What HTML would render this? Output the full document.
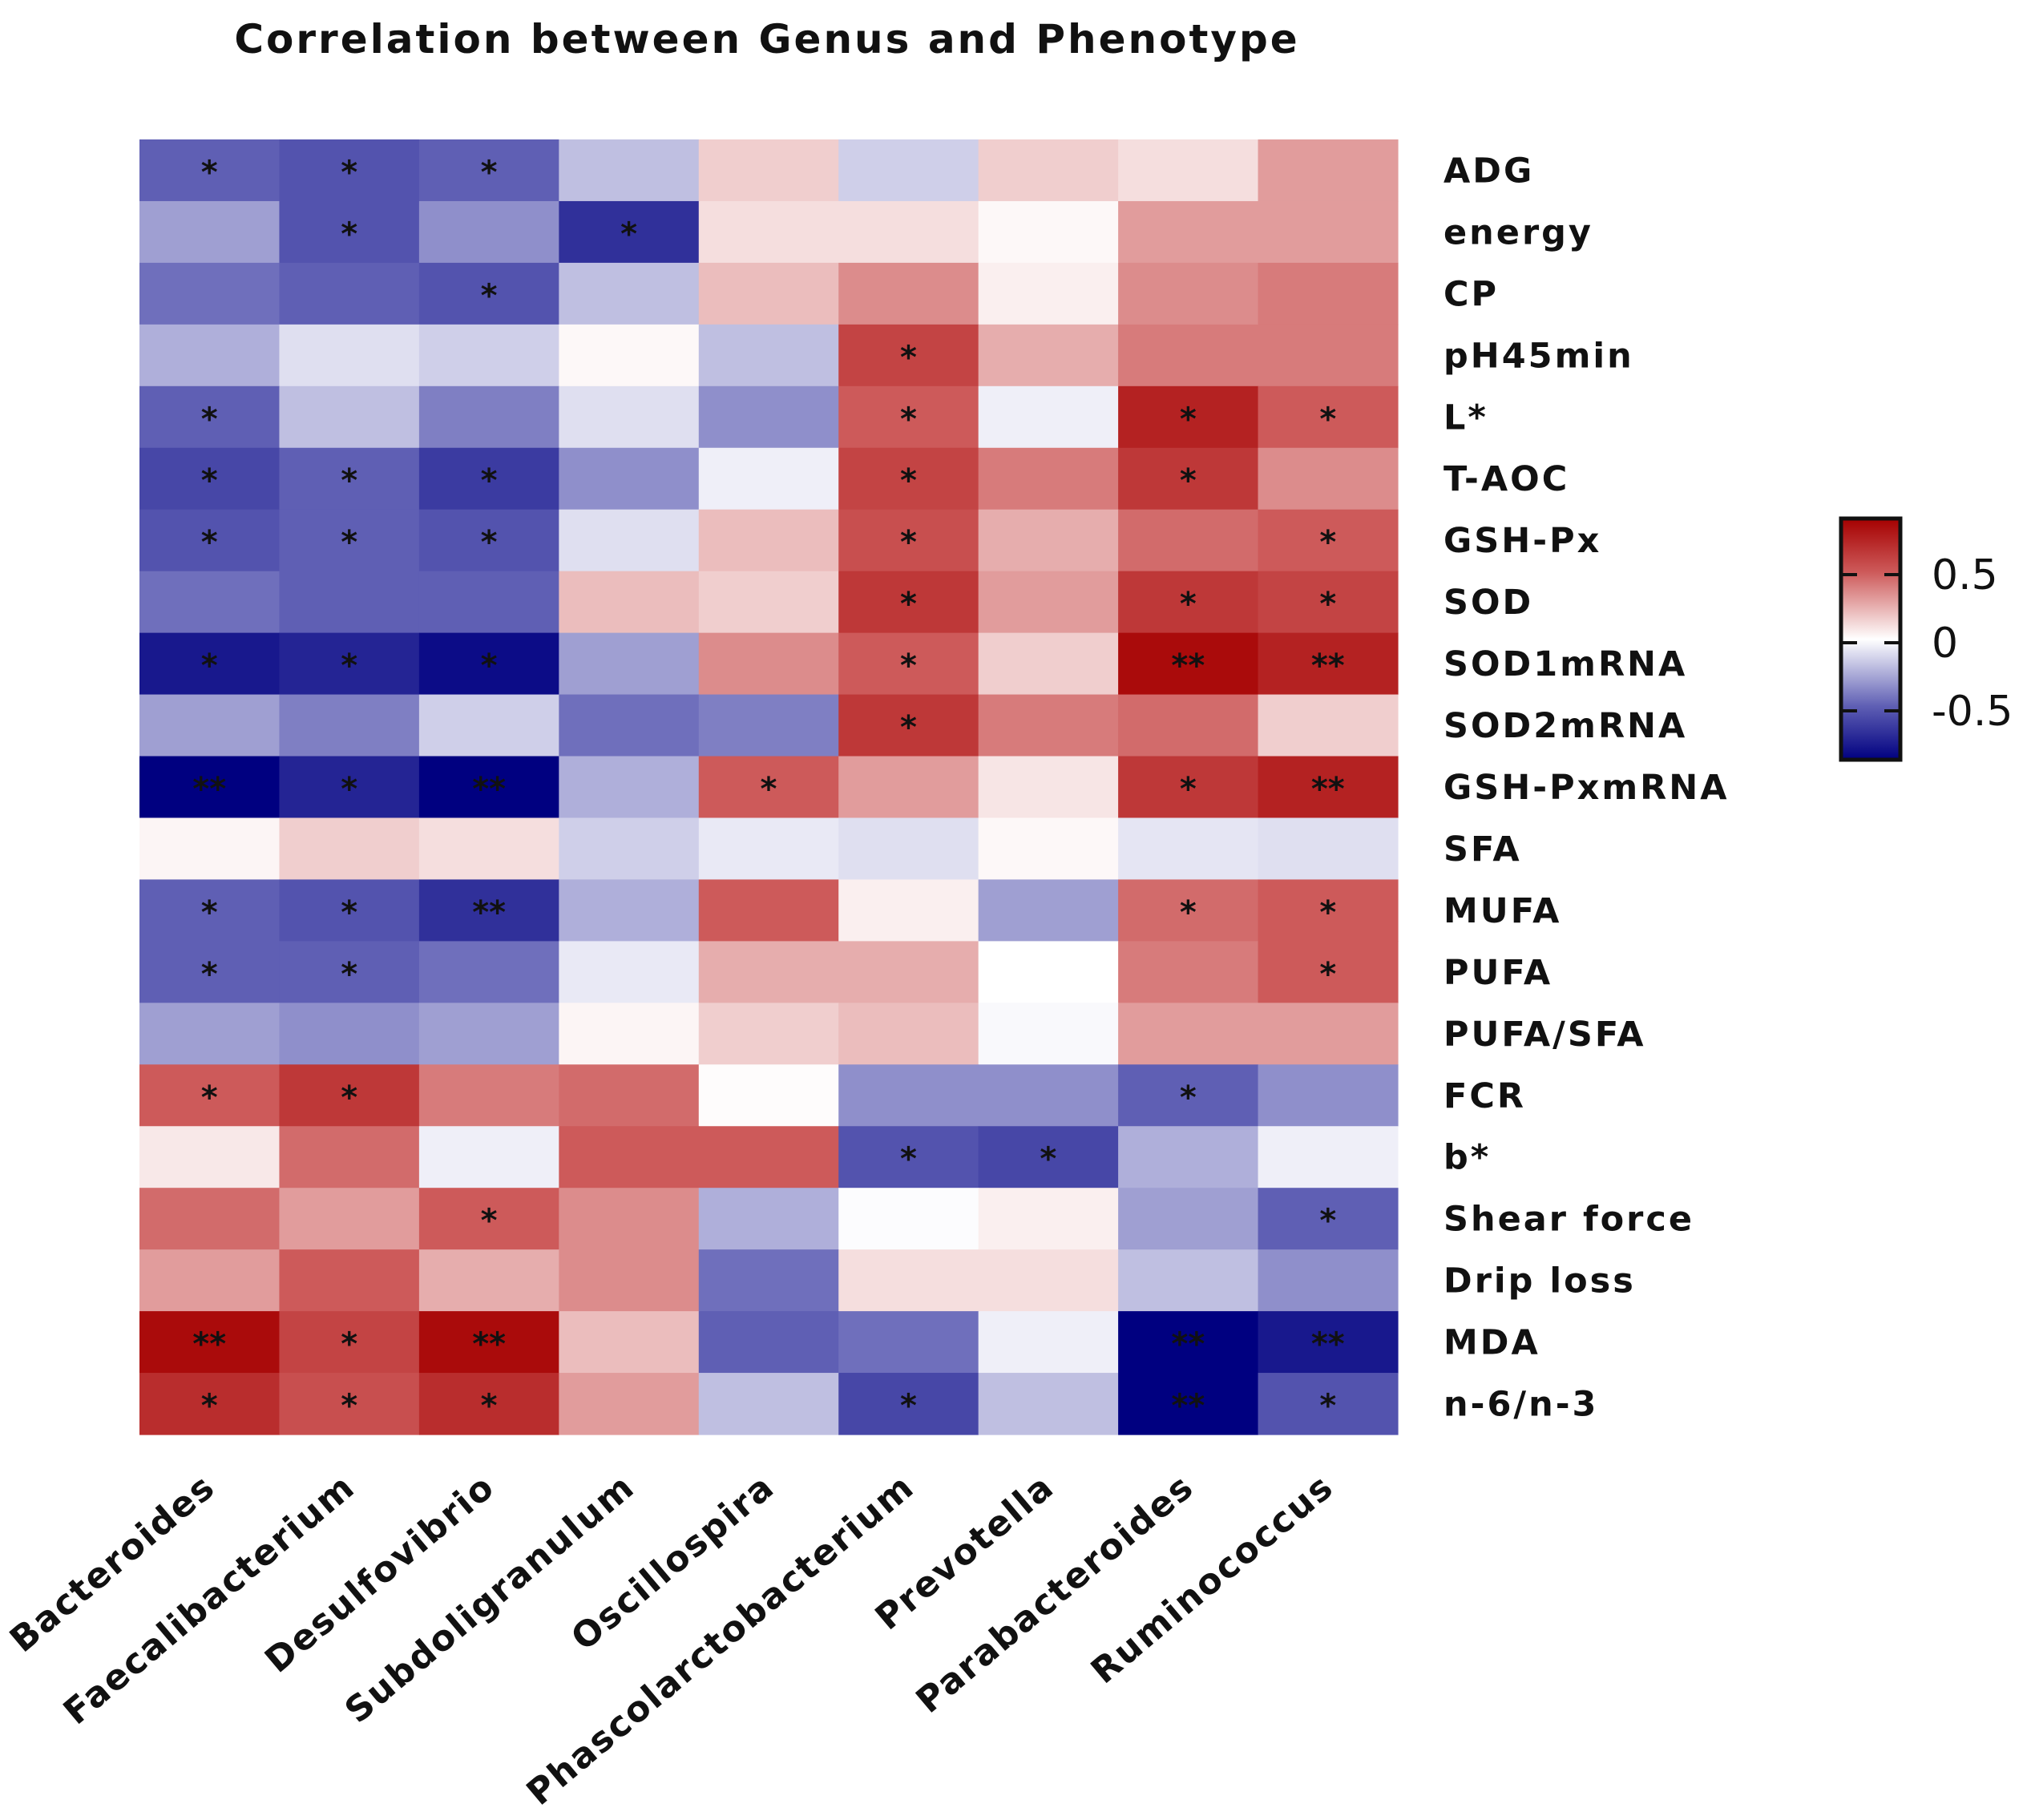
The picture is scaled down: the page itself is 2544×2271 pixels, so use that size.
<!DOCTYPE html>
<html><head><meta charset="utf-8"><style>
body{margin:0;background:#fff;}
svg{display:block;font-family:"DejaVu Sans","Liberation Sans",Arial,sans-serif;}
</style></head><body>
<svg id="chart" width="2544" height="2271" viewBox="0 0 2544 2271">
<text x="957" y="66" text-anchor="middle" font-size="50" font-weight="bold" letter-spacing="3" fill="#111">Correlation between Genus and Phenotype</text>
<g id="cells"></g><g id="stars"></g><g id="rowlabels"></g><g id="collabels"></g>
<defs><linearGradient id="cbg" x1="0" y1="1" x2="0" y2="0">
<stop offset="0" stop-color="#000080"/><stop offset="0.222" stop-color="#5f5fb4"/><stop offset="0.5" stop-color="#ffffff"/><stop offset="0.778" stop-color="#cd5a5a"/><stop offset="1" stop-color="#a50000"/></linearGradient></defs>
<g>
<rect x="2297" y="647" width="74" height="301" fill="url(#cbg)" stroke="#111" stroke-width="5"/>
<g id="cbticks"></g>
</g>
</svg>
<script>
const genera=["Bacteroides","Faecalibacterium","Desulfovibrio","Subdoligranulum","Oscillospira","Phascolarctobacterium","Prevotella","Parabacteroides","Ruminococcus"];
const phenotypes=["ADG","energy","CP","pH45min","L*","T-AOC","GSH-Px","SOD","SOD1mRNA","SOD2mRNA","GSH-PxmRNA","SFA","MUFA","PUFA","PUFA/SFA","FCR","b*","Shear force","Drip loss","MDA","n-6/n-3"];
const values=[
[-0.5,-0.55,-0.5,-0.2,0.15,-0.15,0.15,0.1,0.3],
[-0.3,-0.55,-0.35,-0.7,0.1,0.1,0.02,0.3,0.3],
[-0.45,-0.5,-0.55,-0.2,0.2,0.35,0.05,0.35,0.4],
[-0.25,-0.1,-0.15,0.02,-0.2,0.6,0.25,0.4,0.4],
[-0.5,-0.2,-0.4,-0.1,-0.35,0.5,-0.05,0.75,0.5],
[-0.6,-0.5,-0.65,-0.35,-0.05,0.6,0.4,0.65,0.35],
[-0.55,-0.5,-0.55,-0.1,0.2,0.55,0.25,0.45,0.5],
[-0.45,-0.5,-0.5,0.2,0.15,0.65,0.3,0.65,0.6],
[-0.8,-0.75,-0.85,-0.3,0.35,0.5,0.15,0.85,0.75],
[-0.3,-0.4,-0.15,-0.45,-0.4,0.65,0.4,0.45,0.15],
[-0.9,-0.75,-0.9,-0.25,0.5,0.3,0.08,0.65,0.75],
[0.03,0.15,0.1,-0.15,-0.07,-0.1,0.02,-0.08,-0.1],
[-0.5,-0.55,-0.7,-0.25,0.5,0.05,-0.3,0.45,0.5],
[-0.5,-0.5,-0.45,-0.07,0.25,0.25,0,0.4,0.5],
[-0.3,-0.35,-0.3,0.03,0.15,0.2,-0.02,0.3,0.3],
[0.5,0.65,0.4,0.45,0.01,-0.35,-0.35,-0.5,-0.35],
[0.07,0.45,-0.05,0.5,0.5,-0.55,-0.6,-0.25,-0.05],
[0.45,0.3,0.5,0.35,-0.25,-0.01,0.05,-0.3,-0.5],
[0.3,0.5,0.25,0.35,-0.45,0.1,0.1,-0.2,-0.35],
[0.85,0.6,0.85,0.2,-0.5,-0.45,-0.05,-0.95,-0.8],
[0.7,0.55,0.7,0.3,-0.2,-0.6,-0.2,-0.95,-0.55]];
const stars=[
["*","*","*","","","","","",""],
["","*","","*","","","","",""],
["","","*","","","","","",""],
["","","","","","*","","",""],
["*","","","","","*","","*","*"],
["*","*","*","","","*","","*",""],
["*","*","*","","","*","","","*"],
["","","","","","*","","*","*"],
["*","*","*","","","*","","**","**"],
["","","","","","*","","",""],
["**","*","**","","*","","","*","**"],
["","","","","","","","",""],
["*","*","**","","","","","*","*"],
["*","*","","","","","","","*"],
["","","","","","","","",""],
["*","*","","","","","","*",""],
["","","","","","*","*","",""],
["","","*","","","","","","*"],
["","","","","","","","",""],
["**","*","**","","","","","**","**"],
["*","*","*","","","*","","**","*"]];
const cbTicks=[0.5,0,-0.5];
const X0=174,X1=1744,Y0=174,Y1=1790;
const cw=(X1-X0)/genera.length, rh=(Y1-Y0)/phenotypes.length;
const xPos=i=>X0+i*cw, yPos=j=>Y0+j*rh;
const cbY=v=>802-v*170;
function lerp(a,b,t){return a.map((x,i)=>Math.round(x+(b[i]-x)*t));}
function color(v){
 v=Math.max(-0.9,Math.min(0.9,v));
 const W=[255,255,255];
 let c;
 if(v>=0){c=v<=0.5?lerp(W,[205,90,90],v/0.5):lerp([205,90,90],[165,0,0],(v-0.5)/0.4);}
 else{const a=-v;c=a<=0.5?lerp(W,[95,95,180],a/0.5):lerp([95,95,180],[0,0,128],(a-0.5)/0.4);}
 return `rgb(${c[0]},${c[1]},${c[2]})`;
}
const NS="http://www.w3.org/2000/svg";
const cells=document.getElementById('cells'),st=document.getElementById('stars'),rl=document.getElementById('rowlabels'),cl=document.getElementById('collabels'),cbt=document.getElementById('cbticks');
phenotypes.forEach((p,j)=>{
 genera.forEach((g,i)=>{
  const r=document.createElementNS(NS,'rect');
  r.setAttribute('x',xPos(i));r.setAttribute('y',yPos(j));
  r.setAttribute('width',cw+0.6);r.setAttribute('height',rh+0.6);
  r.setAttribute('fill',color(values[j][i]));
  
  
  cells.appendChild(r);
  if(stars[j][i]){
   const t=document.createElementNS(NS,'text');
   t.setAttribute('x',xPos(i)+cw/2);t.setAttribute('y',yPos(j)+rh/2+16);
   t.setAttribute('text-anchor','middle');t.setAttribute('font-size','40');t.setAttribute('font-weight','bold');t.setAttribute('fill','#111');
   t.textContent=stars[j][i];
   
   
   st.appendChild(t);
  }
 });
 const t=document.createElementNS(NS,'text');
 t.setAttribute('x',1801);t.setAttribute('y',yPos(j)+rh/2+15);
 t.setAttribute('font-size','43');t.setAttribute('font-weight','bold');t.setAttribute('letter-spacing','3');t.setAttribute('fill','#111');
 t.textContent=p;
 
 
 rl.appendChild(t);
});
genera.forEach((g,i)=>{
 const t=document.createElementNS(NS,'text');
 const x=xPos(i)+cw/2+10,y=1860;
 t.setAttribute('x',x);t.setAttribute('y',y);
 t.setAttribute('text-anchor','end');t.setAttribute('font-size','44');t.setAttribute('font-weight','bold');t.setAttribute('letter-spacing','2');t.setAttribute('fill','#111');
 t.setAttribute('transform',`rotate(-40 ${x} ${y})`);
 t.textContent=g;
 
 
 cl.appendChild(t);
});
cbTicks.forEach(v=>{
 const y=cbY(v);
 [[2297,2317],[2351,2371]].forEach(([a,b])=>{
  const l=document.createElementNS(NS,'line');
  l.setAttribute('x1',a);l.setAttribute('x2',b);l.setAttribute('y1',y);l.setAttribute('y2',y);
  l.setAttribute('stroke','#111');l.setAttribute('stroke-width','4');
  
  
  cbt.appendChild(l);
 });
 const t=document.createElementNS(NS,'text');
 t.setAttribute('x',2410);t.setAttribute('y',y+18);
 t.setAttribute('font-size','52');t.setAttribute('fill','#111');
 t.textContent=v===0?'0':String(v);
 
 
 cbt.appendChild(t);
});
</script>
</body></html>
